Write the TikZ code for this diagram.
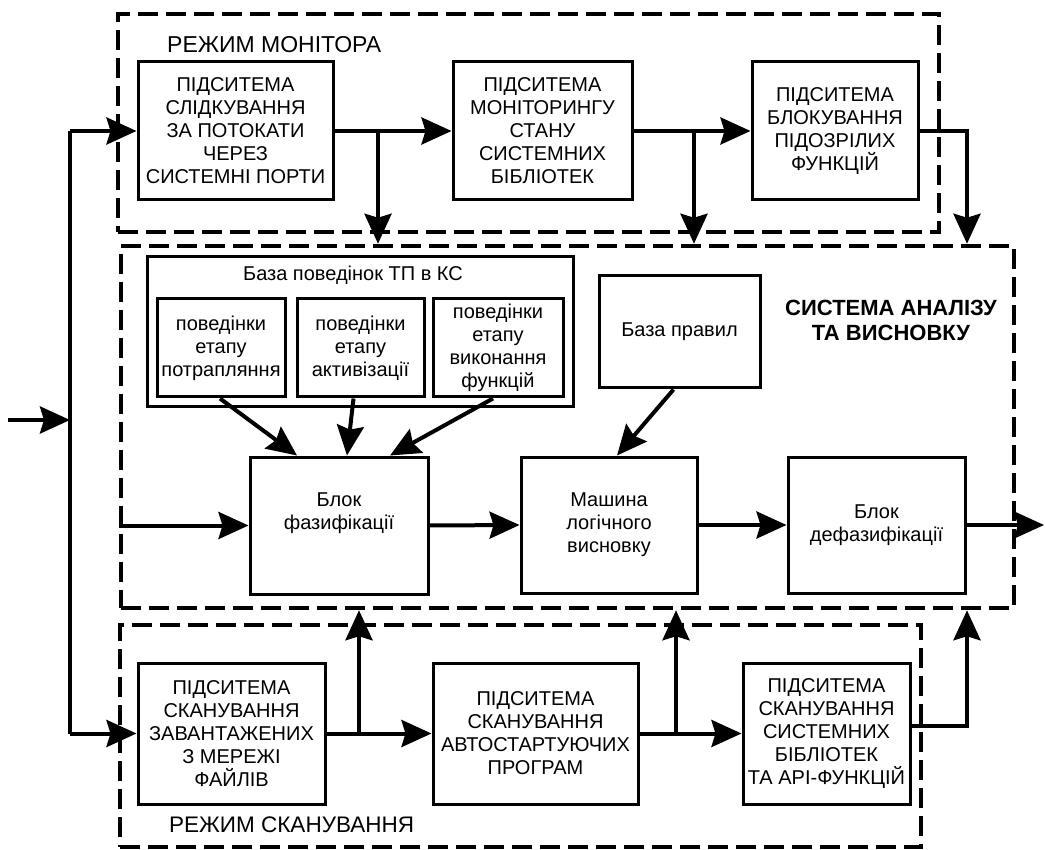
\documentclass[tikz,border=0pt]{standalone}
\usepackage{fontspec}
\setmainfont{Liberation Sans}
\usetikzlibrary{arrows.meta,calc}
\begin{document}
\begin{tikzpicture}[x=1pt,y=-1pt,
  blk/.style={draw, line width=3pt, align=center, inner sep=0pt,
    font=\fontsize{20}{23}\selectfont},
  modebox/.style={draw, line width=4.5pt, dash pattern=on 20pt off 8pt, inner sep=0pt},
  wire/.style={line width=4pt},
  arr/.style={line width=4pt, -{Stealth[length=30pt,width=27pt,inset=4pt]}},
  lbl/.style={inner sep=0pt, align=center, font=\fontsize{20}{23}\selectfont}]
\useasboundingbox[fill=white] (0,0) rectangle (1045,850);

% mode frames
\node[modebox, minimum width=821pt, minimum height=218pt] (mon) at (528.5,123) {};
\node[modebox, minimum width=893pt, minimum height=362pt] (an) at (567.5,427) {};
\node[modebox, minimum width=801pt, minimum height=222pt] (sc) at (520.5,736) {};

\node[lbl, anchor=west, font=\fontsize{23}{26}\selectfont] (monT) at (167,45) {РЕЖИМ МОНІТОРА};
\node[lbl, anchor=west, font=\fontsize{22.5}{26}\selectfont] (scT) at (169,825) {РЕЖИМ СКАНУВАННЯ};
\node[lbl, font=\bfseries\fontsize{22}{25}\selectfont] (anT) at (891,320) {СИСТЕМА АНАЛІЗУ\\ТА ВИСНОВКУ};

% monitoring subsystems
\node[blk, minimum width=195pt, minimum height=138pt] (B1) at (235.5,131)
  {ПІДСИТЕМА\\СЛІДКУВАННЯ\\ЗА ПОТОКАТИ\\ЧЕРЕЗ\\СИСТЕМНІ ПОРТИ};
\node[blk, minimum width=179pt, minimum height=138pt] (B2) at (542.5,131)
  {ПІДСИТЕМА\\МОНІТОРИНГУ\\СТАНУ\\СИСТЕМНИХ\\БІБЛІОТЕК};
\node[blk, minimum width=166pt, minimum height=138pt] (B3) at (835,131)
  {ПІДСИТЕМА\\БЛОКУВАННЯ\\ПІДОЗРІЛИХ\\ФУНКЦІЙ};

% scanning subsystems
\node[blk, minimum width=187pt, minimum height=141pt] (S1) at (231.5,733.5)
  {ПІДСИТЕМА\\СКАНУВАННЯ\\ЗАВАНТАЖЕНИХ\\З МЕРЕЖІ\\ФАЙЛІВ};
\node[blk, minimum width=205pt, minimum height=141pt] (S2) at (535.5,733.5)
  {ПІДСИТЕМА\\СКАНУВАННЯ\\АВТОСТАРТУЮЧИХ\\ПРОГРАМ};
\node[blk, minimum width=167pt, minimum height=141pt] (S3) at (826.5,733.5)
  {ПІДСИТЕМА\\СКАНУВАННЯ\\СИСТЕМНИХ\\БІБЛІОТЕК\\ТА API-ФУНКЦІЙ};

% behaviour base
\node[blk, minimum width=426pt, minimum height=150pt] (db) at (360,332) {};
\node[lbl] (dbT) at (353,275) {База поведінок ТП в КС};
\node[blk, minimum width=128pt, minimum height=98pt] (P1) at (221,348)
  {поведінки\\етапу\\потрапляння};
\node[blk, minimum width=127pt, minimum height=98pt] (P2) at (360.5,348)
  {поведінки\\етапу\\активізації};
\node[blk, minimum width=130pt, minimum height=98pt] (P3) at (498,348)
  {поведінки\\етапу\\виконання\\функцій};
\node[blk, minimum width=161pt, minimum height=112pt] (rb) at (679.5,332) {База правил};

% fuzzy inference chain
\node[blk, minimum width=178pt, minimum height=137pt] (fz) at (339,525.5) {Блок\\фазифікації\\[6pt]};
\node[blk, minimum width=176pt, minimum height=136pt] (ms) at (609,525) {Машина\\логічного\\висновку};
\node[blk, minimum width=177pt, minimum height=136pt] (dz) at (876.5,525) {Блок\\дефазифікації};

% input bus
\coordinate (src) at (8,420);
\coordinate (bus) at (70,420);
\draw[arr] (src) -- (bus);
\draw[wire] (bus |- B1.west) -- (bus |- S1.west);
\draw[arr] (bus |- B1.west) -- (B1.west);
\draw[arr] (bus |- S1.west) -- (S1.west);

% monitoring links
\coordinate (d1) at (378,0);
\coordinate (d2) at (694,0);
\coordinate (d3) at (967,0);
\draw[arr] (B1.east) -- (B2.west);
\draw[arr] (B2.east) -- (B3.west);
\draw[arr] (d1 |- B1.east) -- (d1 |- an.north);
\draw[arr] (d2 |- B2.east) -- (d2 |- an.north);
\draw[arr] (B3.east) -| (d3 |- an.north);

% scanning links
\coordinate (u1) at (359,0);
\coordinate (u2) at (676,0);
\coordinate (u3) at (967,0);
\draw[arr] (S1.east) -- (S2.west);
\draw[arr] (S2.east) -- (S3.west);
\draw[arr] (u1 |- S1.east) -- (u1 |- an.south);
\draw[arr] (u2 |- S2.east) -- (u2 |- an.south);
\draw[arr] ($(S3.east)+(0,-8)$) -| (u3 |- an.south);

% analysis links
\coordinate (out) at (1044,525);
\draw[arr] (an.west |- fz.west) -- (fz.west);
\draw[arr] (fz.east) -- (ms.west);
\draw[arr] (ms.east) -- (dz.west);
\draw[arr] (dz.east) -- (out |- dz.east);
\draw[arr] ($(P1.south)+(-1,0)$) -- ($(fz.north)+(-42,0)$);
\draw[arr] ($(P2.south)+(-7,0)$) -- ($(fz.north)+(8,0)$);
\draw[arr] ($(P3.south)+(-5,0)$) -- ($(fz.north)+(51,0)$);
\draw[arr] ($(rb.south)+(-6,0)$) -- ($(ms.north)+(8,0)$);
\end{tikzpicture}
\end{document}
